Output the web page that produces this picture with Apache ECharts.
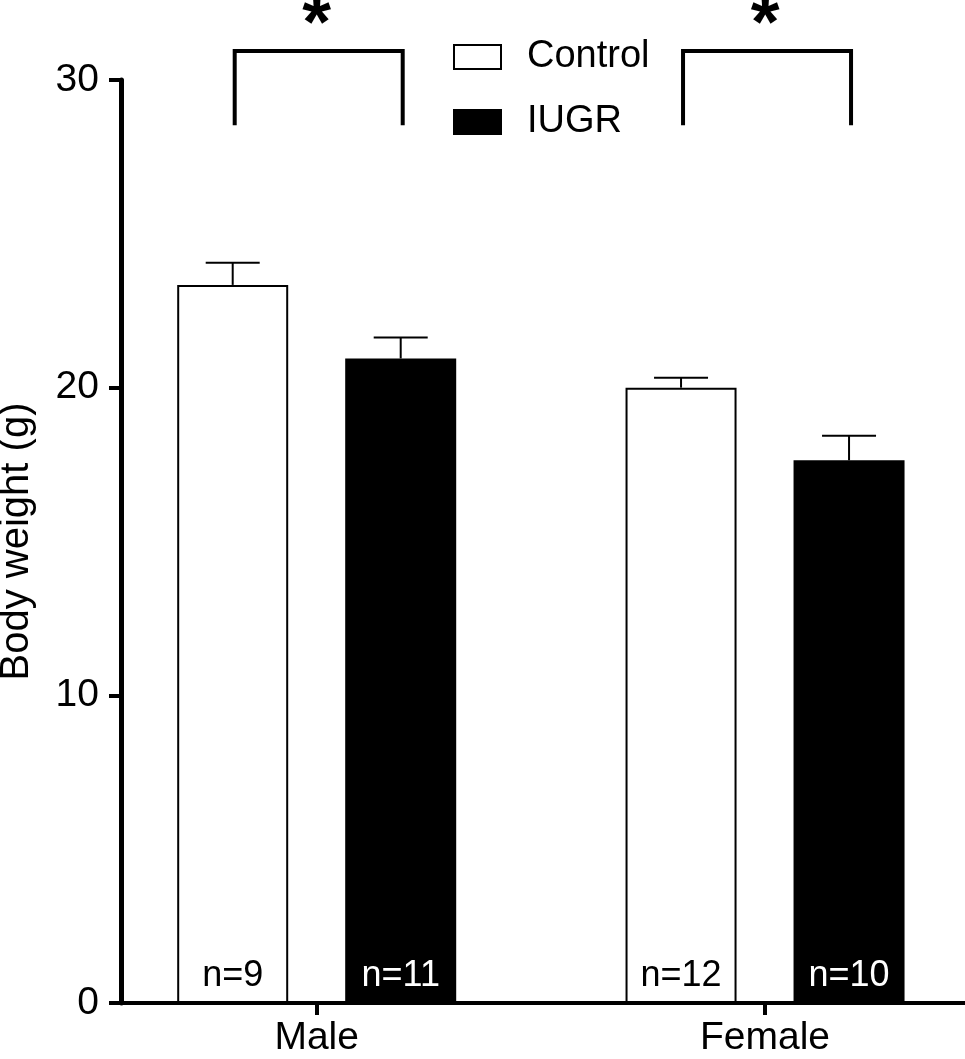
<!DOCTYPE html>
<html>
<head>
<meta charset="utf-8">
<title>Body weight</title>
<script src="https://cdn.jsdelivr.net/npm/echarts@6/dist/echarts.min.js"></script>
<style>
    html, body { margin: 0; padding: 0; background: #fff; }
    #chart { width: 965px; height: 1059px; }
</style>
</head>
<body>
<div id="chart"></div>
<script>
// 数据
var categories = ['Male', 'Female'];
var controlMean = [23.34, 20.0];
var controlSem = [0.72, 0.32];
var iugrMean = [20.95, 17.64];
var iugrSem = [0.68, 0.80];
var controlN = ['n=9', 'n=12'];
var iugrN = ['n=11', 'n=10'];
var yTicks = [0, 10, 20, 30];
var sigMarks = ['*', '*'];

var FONT = '"Liberation Sans", Arial, Helvetica, sans-serif';
var barW = 111, gapPx = 57;
var half = (barW + gapPx) / 2;   // 柱中心相对分类中心的偏移

function catX(i) { return i + 1; }

// 误差线（只画上半部分）
function errorRender(offset) {
    return function (params, api) {
        var x = api.value(0), m = api.value(1), s = api.value(2);
        var base = api.coord([x, m]);
        var top = api.coord([x, m + s]);
        var cx = base[0] + offset;
        return {
            type: 'group',
            children: [
                { type: 'line', shape: { x1: cx, y1: base[1], x2: cx, y2: top[1] }, style: { stroke: '#000', lineWidth: 2 } },
                { type: 'line', shape: { x1: cx - 27, y1: top[1], x2: cx + 27, y2: top[1] }, style: { stroke: '#000', lineWidth: 2 } }
            ]
        };
    };
}

// 显著性括号
var bracketLow = 28.53, bracketHigh = 30.94;
function bracketRender(params, api) {
    var x = api.value(0);
    var pLow = api.coord([x, bracketLow]);
    var pHigh = api.coord([x, bracketHigh]);
    var x1 = pLow[0] - half + 2, x2 = pLow[0] + half + 2;
    return {
        type: 'group',
        children: [
            {
                type: 'polyline',
                shape: { points: [[x1, pLow[1]], [x1, pHigh[1]], [x2, pHigh[1]], [x2, pLow[1]]] },
                style: { stroke: '#000', lineWidth: 4, fill: null, lineJoin: 'miter' }
            },
            {
                type: 'text',
                x: (x1 + x2) / 2 - 2,
                y: pHigh[1] - 24,
                style: {
                    text: sigMarks[params.dataIndex], fill: '#000', font: 'bold 74px ' + FONT,
                    align: 'center', verticalAlign: 'middle'
                }
            }
        ]
    };
}

var myChart = echarts.init(document.getElementById('chart'));
var option = {
    animation: false,
    backgroundColor: '#fff',
    textStyle: { fontFamily: FONT, color: '#000' },
    grid: { left: 121, right: 0, top: 80, bottom: 56, containLabel: false, outerBoundsMode: 'none' },
    legend: {
        data: ['Control', 'IUGR'],
        orient: 'vertical',
        left: 448,
        top: 33,
        icon: 'rect',
        itemWidth: 47,
        itemHeight: 24,
        itemGap: 27,
        textStyle: { fontSize: 38, color: '#000', fontFamily: FONT, padding: [0, 0, 0, 21] }
    },
    xAxis: {
        type: 'value',
        min: 0.5635,
        max: 2.446,
        splitLine: { show: false },
        axisLine: { show: true, onZero: false, lineStyle: { color: '#000', width: 4 } },
        axisTick: { show: true, customValues: [1, 2], length: 12, lineStyle: { color: '#000', width: 4 } },
        axisLabel: {
            customValues: [1, 2],
            formatter: function (v) { return categories[Math.round(v) - 1]; },
            fontSize: 39, color: '#000', margin: 16, fontFamily: FONT
        }
    },
    yAxis: {
        type: 'value',
        min: 0,
        max: 30,
        interval: 10,
        name: 'Body weight (g)',
        nameLocation: 'middle',
        nameGap: 84,
        nameTextStyle: { fontSize: 40, color: '#000', fontFamily: FONT },
        splitLine: { show: false },
        axisLine: { show: true, onZero: false, lineStyle: { color: '#000', width: 5 } },
        axisTick: { show: true, length: 12, lineStyle: { color: '#000', width: 4 } },
        axisLabel: {
            fontSize: 39, color: '#000', margin: 22, fontFamily: FONT,
            formatter: function (v) { return yTicks.indexOf(v) >= 0 ? String(v) : ''; }
        }
    },
    series: [
        {
            name: 'Control',
            type: 'bar',
            barWidth: barW,
            barGap: (gapPx / barW * 100) + '%',
            itemStyle: { color: '#fff', borderColor: '#000', borderWidth: 2 },
            label: {
                show: true, position: 'insideBottom', distance: 9,
                fontSize: 36, color: '#000', fontFamily: FONT,
                formatter: function (p) { return controlN[p.dataIndex]; }
            },
            data: categories.map(function (c, i) { return [catX(i), controlMean[i]]; })
        },
        {
            name: 'IUGR',
            type: 'bar',
            barWidth: barW,
            itemStyle: { color: '#000', borderColor: '#000', borderWidth: 2 },
            label: {
                show: true, position: 'insideBottom', distance: 9,
                fontSize: 36, color: '#fff', fontFamily: FONT,
                formatter: function (p) { return iugrN[p.dataIndex]; }
            },
            data: categories.map(function (c, i) { return [catX(i), iugrMean[i]]; })
        },
        {
            type: 'custom',
            z: 5,
            clip: false,
            renderItem: errorRender(-half),
            data: categories.map(function (c, i) { return [catX(i), controlMean[i], controlSem[i]]; })
        },
        {
            type: 'custom',
            z: 5,
            clip: false,
            renderItem: errorRender(half),
            data: categories.map(function (c, i) { return [catX(i), iugrMean[i], iugrSem[i]]; })
        },
        {
            type: 'custom',
            z: 5,
            clip: false,
            renderItem: bracketRender,
            data: categories.map(function (c, i) { return [catX(i)]; })
        }
    ]
};
myChart.setOption(option);
window.addEventListener("resize", function () {
    myChart.resize();
});
</script>
</body>
</html>
